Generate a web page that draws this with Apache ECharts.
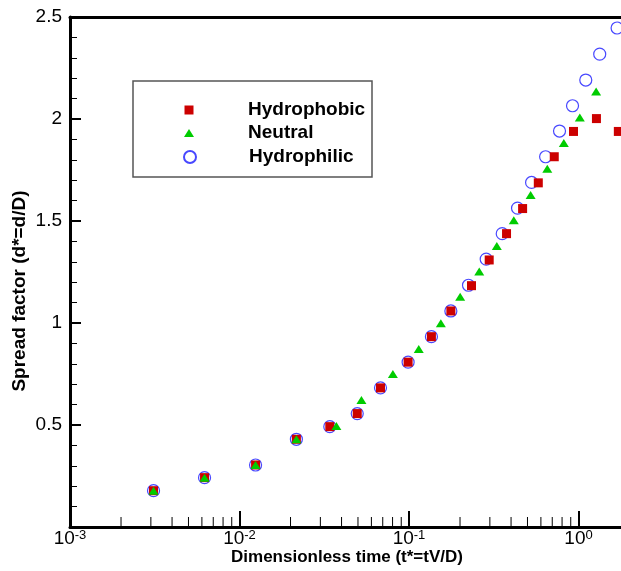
<!DOCTYPE html>
<html><head><meta charset="utf-8">
<script src="https://cdn.jsdelivr.net/npm/echarts@6/dist/echarts.min.js"></script>
<style>html,body{margin:0;padding:0;background:#fff}#c{width:621px;height:571px}</style>
</head><body><div id="c"></div>
<script>
const seriesNames = ['Hydrophobic', 'Neutral', 'Hydrophilic'];
const hydrophobic = [[0.00311,0.178],[0.00622,0.242],[0.01244,0.304],[0.02166,0.430],[0.0341,0.492],[0.0495,0.556],[0.0679,0.682],[0.0988,0.808],[0.1356,0.933],[0.1766,1.059],[0.2337,1.183],[0.2973,1.309],[0.3762,1.438],[0.468,1.561],[0.5792,1.687],[0.7194,1.815],[0.9346,1.939],[1.276,2.002],[1.718,1.939]];
const neutral = [[0.00311,0.178],[0.00622,0.242],[0.01244,0.304],[0.02166,0.430],[0.0373,0.495],[0.0524,0.623],[0.0803,0.750],[0.1142,0.873],[0.1541,0.999],[0.2004,1.129],[0.2596,1.252],[0.3296,1.378],[0.4153,1.504],[0.5217,1.628],[0.6546,1.756],[0.8194,1.882],[1.018,2.007],[1.271,2.135],[1.915,2.138]];
const hydrophilic = [[0.00311,0.178],[0.00622,0.242],[0.01244,0.304],[0.02166,0.430],[0.0341,0.492],[0.0495,0.556],[0.0679,0.682],[0.0988,0.808],[0.1356,0.933],[0.1766,1.059],[0.2244,1.185],[0.2854,1.313],[0.3548,1.438],[0.4369,1.563],[0.5287,1.689],[0.6397,1.815],[0.7727,1.941],[0.922,2.065],[1.104,2.191],[1.334,2.318],[1.689,2.446]];
const xMinorTicks = [0.002,0.003,0.004,0.005,0.006,0.007,0.008,0.009,0.02,0.03,0.04,0.05,0.06,0.07,0.08,0.09,0.2,0.3,0.4,0.5,0.6,0.7,0.8,0.9,2,3,4,5,6,7,8,9];
const yTickLabels = ['', '0.5', '1', '1.5', '2', '2.5'];
const xTitle = 'Dimensionless time (t*=tV/D)';
const yTitle = 'Spread factor (d*=d/D)';

const FONT = 'Liberation Sans, Arial, sans-serif';
const chart = echarts.init(document.getElementById('c'), null, {renderer: 'canvas'});

const legendCfg = [
  {w: 9, h: 9, pad: 49.5, top: 100},
  {w: 10, h: 8, pad: 49, top: 123},
  {w: 12, h: 12, pad: 48, top: 147}
];

chart.setOption({
  animation: false,
  backgroundColor: '#fff',
  grid: {left: 70, top: 17, width: 678, height: 510, containLabel: false, outerBoundsMode: 'none'},
  graphic: [{
    type: 'rect', z: 10, silent: true,
    shape: {x: 133, y: 81, width: 239, height: 96},
    style: {fill: '#fff', stroke: '#555', lineWidth: 1.5}
  }],
  legend: seriesNames.map((n, i) => ({
    data: [n], orient: 'vertical', z: 20,
    left: 189 - legendCfg[i].w / 2, top: legendCfg[i].top,
    itemWidth: legendCfg[i].w, itemHeight: legendCfg[i].h,
    padding: 0, selectedMode: false,
    textStyle: {fontSize: 19, fontWeight: 'bold', color: '#000', fontFamily: FONT,
      lineHeight: 20, padding: [0, 0, 0, legendCfg[i].pad]}
  })),
  xAxis: [{
    type: 'log', logBase: 10, min: 0.001, max: 10,
    position: 'bottom',
    axisLine: {show: true, onZero: false, lineStyle: {color: '#000', width: 3}},
    axisTick: {show: true, inside: true, length: 16, lineStyle: {color: '#000', width: 2}},
    minorTick: {show: false},
    splitLine: {show: false},
    axisLabel: {
      margin: 2, color: '#000', fontFamily: FONT,
      formatter: v => '{b|10}{s|' + Math.round(Math.log10(v)) + '}',
      rich: {
        b: {fontSize: 19, fontFamily: FONT, color: '#000', lineHeight: 20},
        s: {fontSize: 13, fontFamily: FONT, color: '#000', verticalAlign: 'top', lineHeight: 14}
      }
    },
    name: xTitle, nameLocation: 'middle', nameGap: 22, nameMoveOverlap: false,
    nameTextStyle: {fontSize: 17, fontWeight: 'bold', color: '#000', fontFamily: FONT, padding: [0, 124, 0, 0]}
  }, {
    type: 'log', logBase: 10, min: 0.001, max: 10, position: 'top',
    axisLine: {show: true, onZero: false, lineStyle: {color: '#000', width: 3}},
    axisTick: {show: false}, axisLabel: {show: false}, splitLine: {show: false}
  }],
  yAxis: [{
    type: 'value', min: 0, max: 2.5, interval: 0.5,
    axisLine: {show: true, onZero: false, lineStyle: {color: '#000', width: 3}},
    axisTick: {show: true, inside: true, length: 11, lineStyle: {color: '#000', width: 2}},
    minorTick: {show: true, splitNumber: 5, length: 7, lineStyle: {color: '#000', width: 1}},
    splitLine: {show: false},
    axisLabel: {
      margin: 8, fontSize: 19, color: '#000', fontFamily: FONT,
      formatter: v => yTickLabels[Math.round(v / 0.5)] || ''
    },
    name: yTitle, nameLocation: 'middle', nameGap: 41, nameRotate: 90, nameMoveOverlap: false,
    nameTextStyle: {fontSize: 19, fontWeight: 'bold', color: '#000', fontFamily: FONT, padding: [0, 38, 0, 0]}
  }],
  series: [{
    name: seriesNames[0], type: 'scatter', data: hydrophobic, z: 3, clip: false,
    symbol: 'rect', symbolSize: 9,
    itemStyle: {color: '#cc0000', opacity: 1}
  }, {
    name: seriesNames[1], type: 'scatter', data: neutral, z: 4, clip: false,
    symbol: 'triangle', symbolSize: [10, 8],
    itemStyle: {color: '#00cc00', opacity: 1}
  }, {
    name: seriesNames[2], type: 'scatter', data: hydrophilic, z: 2, clip: false,
    symbol: 'circle', symbolSize: 12,
    itemStyle: {color: 'rgba(0,0,0,0)', borderColor: '#4848ff', borderWidth: 1.2, opacity: 1}
  }, {
    type: 'custom', silent: true, z: 5, clip: false,
    data: xMinorTicks.map(v => [v, 0]),
    renderItem: (params, api) => {
      const p = api.coord([api.value(0), 0]);
      return {type: 'line', shape: {x1: p[0], y1: p[1], x2: p[0], y2: p[1] - 10},
        style: {stroke: '#000', lineWidth: 1}};
    }
  }]
});
</script></body></html>
